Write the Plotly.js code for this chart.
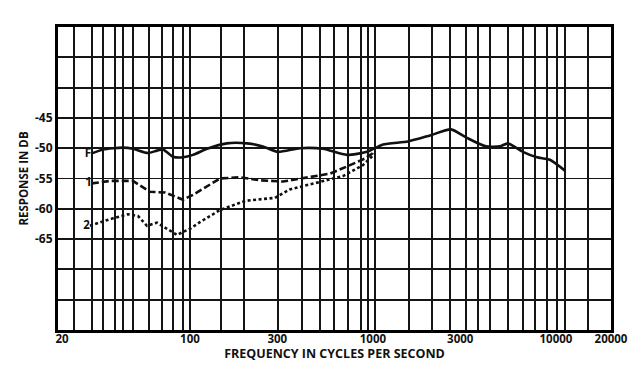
<!DOCTYPE html>
<html>
<head>
<meta charset="utf-8">
<script src="https://cdn.plot.ly/plotly-3.0.1.min.js"></script>
<style>html,body{margin:0;padding:0;background:#fff;}#chart{width:640px;height:386px;}</style>
</head>
<body>
<div id="chart"></div>
<script>
// Frequency (Hz) and response (dB)
const freqF = [28.8, 33.5, 43.0, 48.8, 58.9, 66.0, 71.2, 80.7, 91.6, 103.8, 123.9, 159, 205, 250, 302, 399, 533, 721, 927, 1135, 1553, 2050, 2670, 3265, 4140, 4940, 5470, 6600, 7870, 9270, 11200];
const respF = [-50.9, -50.2, -49.9, -50.1, -50.8, -50.4, -50.2, -51.4, -51.5, -51.1, -50.1, -49.2, -49.2, -49.7, -50.6, -50.0, -50.1, -51.1, -50.6, -49.4, -48.9, -47.9, -46.9, -48.3, -49.7, -49.7, -49.2, -50.6, -51.5, -51.9, -53.7];

const freq1 = [29.1, 36.6, 48.8, 60.4, 73.0, 91.6, 103.8, 145.9, 187.6, 241, 322, 414, 582, 749, 904, 1025];
const resp1 = [-55.8, -55.4, -55.4, -57.2, -57.3, -58.5, -57.7, -55.0, -54.8, -55.3, -55.5, -55.0, -54.2, -52.8, -51.7, -50.6];

const freq2 = [28.4, 36.6, 45.8, 52.0, 58.2, 66.0, 74.9, 84.9, 100, 113.4, 145.9, 200, 247, 291, 352, 513, 686, 881, 1025];
const resp2 = [-62.8, -61.7, -60.9, -61.2, -62.8, -62.3, -63.3, -64.3, -63.3, -62.2, -60.2, -58.7, -58.4, -58.2, -56.8, -55.5, -54.6, -52.8, -50.9];

const seriesLabels = ['F', '1', '2'];

// Axis grid / tick definitions
const xGridVals = [23.2, 29.1, 33.5, 38.9, 43.0, 48.8, 59.7, 70.3, 80.7, 91.6, 100, 147.6, 197, 302.5, 409, 513, 612, 730, 860, 939, 1025, 1573, 2100, 2634, 3222, 3750, 4357, 5465, 6607, 7674, 8928, 10117, 11190, 14960];
const xLabelVals = [20, 100, 300, 1000, 3000, 10000, 20000];
const xLabelText = ['20', '100', '300', '1000', '3000', '10000', '20000'];
const yVals = [-80, -75, -70, -65, -60, -55, -50, -45, -40, -35, -30];
const yText = ['', '', '', '-65', '-60', '-55', '-50', '-45', '', '', ''];

const xRange = [Math.log10(19), Math.log10(20000)];
const font = 'Open Sans, DejaVu Sans, sans-serif';
const ink = '#111111';

function labelFirst(arr, lab) { return arr.map((v, i) => i === 0 ? lab : ''); }
const labelFont = {family: font, size: 11.5, color: ink, weight: 'bold'};

const traces = [
  {x: freqF, y: respF, mode: 'lines+text', text: labelFirst(freqF, seriesLabels[0]),
   textposition: 'middle left', textfont: labelFont, marker: {color: ink},
   line: {color: ink, width: 2.6, shape: 'spline', smoothing: 0.6}, xaxis: 'x', yaxis: 'y', cliponaxis: false},
  {x: freq1, y: resp1, mode: 'lines+text', text: labelFirst(freq1, seriesLabels[1]),
   textposition: 'middle left', textfont: labelFont, marker: {color: ink},
   line: {color: ink, width: 2.6, dash: '7px,3px'}, xaxis: 'x', yaxis: 'y', cliponaxis: false},
  {x: freq2, y: resp2, mode: 'lines+text', text: labelFirst(freq2, seriesLabels[2]),
   textposition: 'middle left', textfont: labelFont, marker: {color: ink},
   line: {color: ink, width: 2.6, dash: '3px,2.5px'}, xaxis: 'x', yaxis: 'y', cliponaxis: false},
  {x: [xLabelVals[0]], y: [-100], mode: 'markers', marker: {opacity: 0}, xaxis: 'x2', yaxis: 'y', hoverinfo: 'skip'}
];

const layout = {
  width: 640, height: 386,
  margin: {l: 58, r: 29, t: 27, b: 56},
  paper_bgcolor: '#fff', plot_bgcolor: '#fff',
  showlegend: false,
  font: {family: font, color: ink},
  xaxis: {
    type: 'log', range: xRange, tickmode: 'array', tickvals: xGridVals,
    showticklabels: false, ticks: '', showgrid: true, gridcolor: '#151515', gridwidth: 1.8,
    showline: true, linecolor: '#000', linewidth: 3, mirror: true, zeroline: false,
    title: {text: 'FREQUENCY IN CYCLES PER SECOND', font: {family: font, size: 12.5, color: ink, weight: 'bold'}, standoff: 18}
  },
  xaxis2: {
    type: 'log', range: xRange, overlaying: 'x', side: 'bottom', tickmode: 'array',
    tickvals: xLabelVals, ticktext: xLabelText, ticks: '', showgrid: false, showline: false, zeroline: false,
    tickfont: {family: font, size: 11.5, color: ink, weight: 'bold'}
  },
  yaxis: {
    range: [-80, -30], tickmode: 'array', tickvals: yVals, ticktext: yText, ticks: '',
    showgrid: true, gridcolor: '#151515', gridwidth: 1.8, zeroline: false,
    showline: true, linecolor: '#000', linewidth: 3, mirror: true,
    tickfont: {family: font, size: 12, color: ink, weight: 'bold'},
    title: {text: 'RESPONSE IN DB', font: {family: font, size: 11.5, color: ink, weight: 'bold'}, standoff: 4}
  }
};

Plotly.newPlot('chart', traces, layout, {displayModeBar: false, staticPlot: true});
</script>
</body>
</html>
